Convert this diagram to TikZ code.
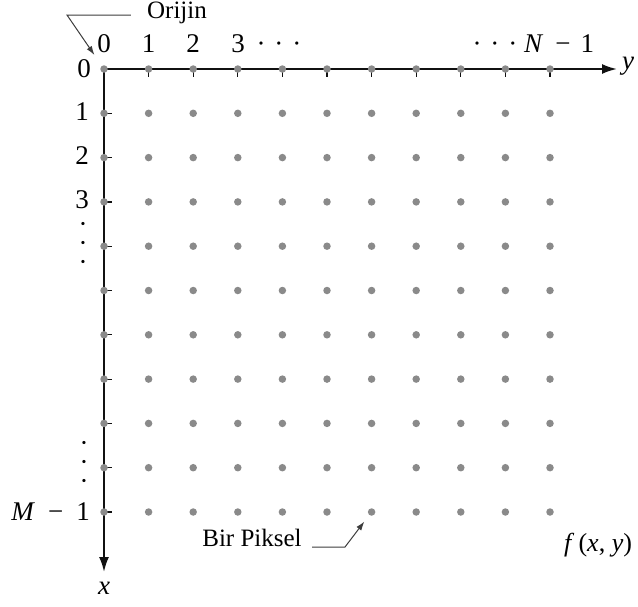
\documentclass[tikz,border=0pt]{standalone}
\usepackage{fontspec}
\setmainfont{Liberation Serif}
\usetikzlibrary{arrows.meta,calc}
\definecolor{PixGray}{HTML}{8A8A8A}
\definecolor{AxisInk}{HTML}{111111}
\definecolor{LeadInk}{HTML}{3C3C3C}

\begin{document}
\begin{tikzpicture}[x=1pt,y=-1pt, font=\fontsize{27}{30}\selectfont,
    pix/.style={circle, fill=PixGray, inner sep=0pt, minimum size=7.5pt},
    lbl/.style={inner sep=0pt},
    callout/.style={inner sep=0pt, font=\fontsize{25}{28}\selectfont},
    leader/.style={LeadInk, line width=1pt, -{Latex[length=9pt,width=6pt]}}]
    \useasboundingbox (0,0) rectangle (638,606);

    % Pixel positions
    \foreach \i in {0,...,10}
      \foreach \j in {0,...,10}
        \coordinate (c-\i-\j) at (104+44.6*\j, 69+44.3*\i);

    % Axes
    \coordinate (yend) at (617,69);
    \coordinate (xend) at (104,572);
    \draw[AxisInk, line width=2pt, -{Latex[length=15pt,width=10pt]}] (c-0-0) -- (yend);
    \draw[AxisInk, line width=2pt, -{Latex[length=15pt,width=10pt]}] (c-0-0) -- (xend);
    \foreach \k in {1,...,10} {
      \draw[AxisInk, line width=1.2pt] (c-0-\k) -- ++(0,8);
      \draw[AxisInk, line width=1.2pt] (c-\k-0) -- ++(8,0);
    }

    % Pixels
    \foreach \i in {0,...,10}
      \foreach \j in {0,...,10}
        \node[pix] (p-\i-\j) at (c-\i-\j) {};

    % Column labels
    \node[lbl] (col0) at (104,44) {0};
    \node[lbl] (col1) at (148.6,44) {1};
    \node[lbl] (col2) at (193.2,44) {2};
    \node[lbl] (col3) at (238,44) {3};
    \node[lbl] (coldots) at (279,47) {·\hspace{9pt}·\hspace{9pt}·};
    \node[lbl] (colenddots) at (495,47) {·\hspace{9pt}·\hspace{9pt}·};
    \node[lbl, anchor=west] (colend) at (524,44) {\textit{N}\hspace{12pt}−\hspace{10pt}1};
    \node[lbl] (ylab) at (628,66) {\textit{y}};

    % Row labels
    \node[lbl] (row0) at (84,69) {0};
    \node[lbl] (row1) at (82,112) {1};
    \node[lbl] (row2) at (82,156) {2};
    \node[lbl] (row3) at (82,200) {3};
    \node[lbl, rotate=-90] (vdotsA) at (80,243) {·\hspace{10pt}·\hspace{10pt}·};
    \node[lbl, rotate=-90] (vdotsB) at (81,462) {·\hspace{10pt}·\hspace{10pt}·};
    \node[lbl, anchor=east] (rowend) at (90,512) {\textit{M}\hspace{13pt}−\hspace{13pt}1};
    \node[lbl] (xlab) at (104,588) {\textit{x}};

    % Callouts
    \node[callout] (orijin) at (177,13) {Orijin};
    \coordinate (obend) at (67,15);
    \draw[leader, shorten >=13pt] (orijin.west) ++(-16,2) -- (obend) -- (p-0-0);

    \node[callout] (piksel) at (252,538) {Bir Piksel};
    \coordinate (pstart) at (312,547);
    \coordinate (pbend) at (345,547);
    \draw[leader, shorten >=8pt] (pstart) -- (pbend) -- (p-10-6);

    \node[lbl, font=\fontsize{26}{30}\selectfont] (fxy) at (598,545) {\textit{f}\,(\textit{x}, \textit{y})};
  \end{tikzpicture}
\end{document}
